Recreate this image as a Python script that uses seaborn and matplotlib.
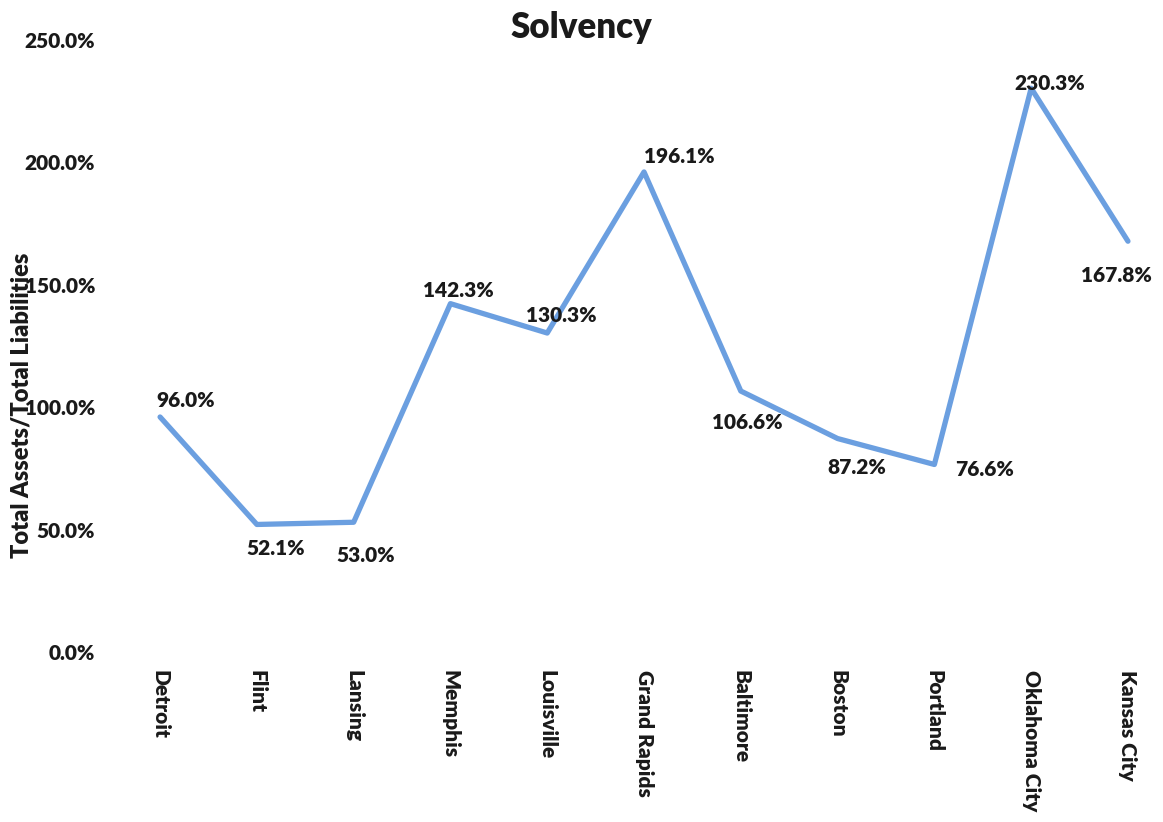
import pandas as pd
import seaborn as sns
import matplotlib.pyplot as plt
from matplotlib.ticker import FuncFormatter

# data
cities = ["Detroit", "Flint", "Lansing", "Memphis", "Louisville", "Grand Rapids",
          "Baltimore", "Boston", "Portland", "Oklahoma City", "Kansas City"]
solvency = [96.0, 52.1, 53.0, 142.3, 130.3, 196.1, 106.6, 87.2, 76.6, 230.3, 167.8]

# label offsets in pixels (dx, dy) relative to each point
label_offsets = [(26, 16), (19, -24), (12, -33), (8, 13), (14, 18), (35, 15),
                 (7, -31), (19, -29), (50, -5), (19, 5), (-12, -34)]

df = pd.DataFrame({"city": cities, "ratio": solvency})

sns.set_style("white")
plt.rcParams["font.family"] = ["Lato", "DejaVu Sans"]
plt.rcParams["font.weight"] = "bold"

fig = plt.figure(figsize=(11.63, 8.22), dpi=100)
ax = fig.add_axes([102 / 1163, 170 / 822, 1055 / 1163, 612 / 822])

sns.lineplot(data=df, x="city", y="ratio", sort=False, ax=ax,
             color="#6b9fe0", linewidth=3.8)

for i, (val, (dx, dy)) in enumerate(zip(solvency, label_offsets)):
    ax.annotate(f"{val:.1f}%", xy=(i, val), xytext=(dx, dy),
                textcoords="offset pixels", ha="center", va="center",
                fontsize=15, fontweight="heavy", color="#1a1a1a")

ax.set_xlim(-0.6, 10.3)
ax.set_ylim(0, 250)
ax.set_yticks([0, 50, 100, 150, 200, 250])
ax.yaxis.set_major_formatter(FuncFormatter(lambda v, p: f"{v:.1f}%"))
ax.set_xticks(range(len(cities)))
ax.set_xticklabels(cities, rotation=270, ha="center", va="top")
ax.tick_params(axis="x", length=0, pad=13, labelsize=15, labelcolor="#1a1a1a")
ax.tick_params(axis="y", length=0, pad=5, labelsize=15, labelcolor="#1a1a1a")
for lab in ax.get_xticklabels() + ax.get_yticklabels():
    lab.set_fontweight("heavy")
ax.set_xlabel("")
ax.set_ylabel("")
sns.despine(ax=ax, left=True, bottom=True)

fig.text(0.5, 1 - 28 / 822, "Solvency", ha="center", va="center",
         fontsize=25, fontweight="heavy", color="#1a1a1a")
fig.text(22 / 1163, 1 - 405 / 822, "Total Assets/Total Liabilities", rotation=90,
         ha="center", va="center", fontsize=17, fontweight="heavy", color="#1a1a1a")

fig.savefig("out.png", dpi=100, facecolor="white")
